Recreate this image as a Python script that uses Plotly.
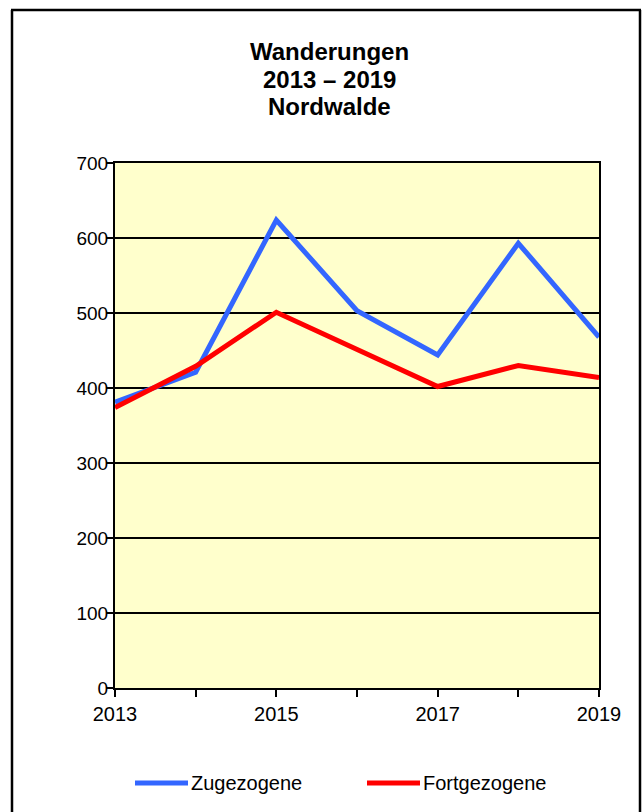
import plotly.graph_objects as go

years = [2013, 2014, 2015, 2016, 2017, 2018, 2019]
zugezogene = [381, 421, 624, 503, 444, 593, 468]
fortgezogene = [374, 429, 501, 451, 402, 430, 414]
x_tick_text = ["2013", "", "2015", "", "2017", "", "2019"]
y_ticks = [0, 100, 200, 300, 400, 500, 600, 700]
title_lines = ["Wanderungen", "2013 – 2019", "Nordwalde"]
series_names = ["Zugezogene", "Fortgezogene"]
series_colors = ["rgb(51,102,255)", "rgb(255,0,0)"]

W, H = 643, 812
PL, PR, PT, PB = 115, 599, 163, 688  # plot area in page pixels
L, T, R, B = PL, PT, W - PR, H - PB
pw, ph = PR - PL, PB - PT

def px_x(px):
    return (px - PL) / pw

def px_y(py):
    return (PB - py) / ph

fig = go.Figure()
for name, vals, col in zip(series_names, [zugezogene, fortgezogene], series_colors):
    fig.add_trace(go.Scatter(x=years, y=vals, mode="lines", name=name,
                             line=dict(color=col, width=5), showlegend=False))

annotations = []
for i, txt in enumerate(title_lines):
    annotations.append(dict(text="<b>" + txt + "</b>", xref="paper", yref="paper",
                            x=px_x(329), y=px_y(52 + 27 * i), xanchor="center", yanchor="middle",
                            showarrow=False, font=dict(size=24, color="black")))

# outer frame (left, top, right); bottom edge lies below the page
frame = [(12, 10, 12, 840), (11, 10, 641, 10), (640, 10, 640, 840)]
shapes = [dict(type="line", xref="paper", yref="paper",
               x0=px_x(a), y0=px_y(b), x1=px_x(c), y1=px_y(d),
               line=dict(color="black", width=2.5), layer="above") for a, b, c, d in frame]

legend_items = [(135, 188, 189), (367, 420, 421)]
for (x0, x1, tx), name, col in zip(legend_items, series_names, series_colors):
    shapes.append(dict(type="line", xref="paper", yref="paper",
                       x0=px_x(x0), x1=px_x(x1), y0=px_y(783), y1=px_y(783),
                       line=dict(color=col, width=5)))
    annotations.append(dict(text=name, xref="paper", yref="paper",
                            x=px_x(tx), y=px_y(783), xanchor="left", yanchor="middle",
                            showarrow=False, font=dict(size=20, color="black")))

fig.update_layout(
    width=W, height=H,
    margin=dict(l=L, r=R, t=T, b=B, autoexpand=False),
    paper_bgcolor="white",
    plot_bgcolor="rgb(255,255,204)",
    font=dict(family="Liberation Sans, Arial, sans-serif", color="black"),
    showlegend=False,
    xaxis=dict(range=[2013, 2019], tickmode="array", tickvals=years, ticktext=x_tick_text,
               ticks="outside", ticklen=7, tickwidth=2, tickcolor="black",
               showline=True, linecolor="black", linewidth=2, mirror=True,
               showgrid=False, zeroline=False, tickfont=dict(size=20, color="black")),
    yaxis=dict(range=[0, 700], tickmode="array", tickvals=y_ticks,
               ticks="outside", ticklen=7, tickwidth=2, tickcolor="black",
               showline=True, linecolor="black", linewidth=2, mirror=True,
               showgrid=True, gridcolor="black", gridwidth=2, zeroline=False,
               ticklabelstandoff=-6,
               tickfont=dict(size=19, color="black")),
    shapes=shapes,
    annotations=annotations,
)

fig.write_html("out.html", config={"displayModeBar": False},
               post_script="document.body.style.margin='0';document.body.style.overflow='hidden';")
